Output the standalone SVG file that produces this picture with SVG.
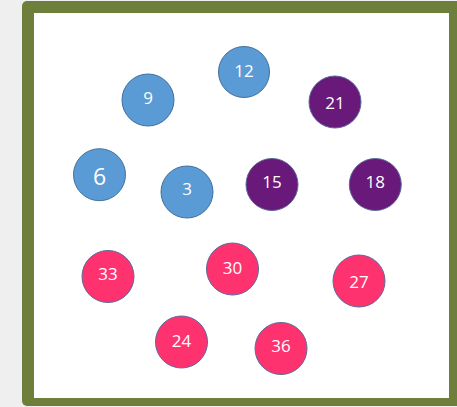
<svg xmlns="http://www.w3.org/2000/svg" width="457" height="407" viewBox="0 0 457 407">
<style>
.n circle{stroke:#5a6a9a;stroke-width:1}
.b circle{fill:#5b9bd5;stroke:#41719c}
.p circle{fill:#68197a}
.r circle{fill:#ff3270}
.n text{fill:#ffffff;font-family:"Open Sans","Liberation Sans",sans-serif;font-size:17px;text-anchor:middle}
</style>
<rect x="0" y="0" width="457" height="407" fill="#efefef"/>
<g id="frame">
<rect x="22" y="1" width="445" height="405" rx="5" fill="#6e7f3c"/>
<rect x="34" y="13" width="415" height="385" fill="#ffffff"/>
</g>
<g id="connectors"></g>
<g id="n12" class="n b"><circle cx="244" cy="72" r="25.5"/><text x="244" y="77">12</text></g>
<g id="n9" class="n b"><circle cx="148" cy="100" r="26"/><text x="148" y="103.5">9</text></g>
<g id="n21" class="n p"><circle cx="335" cy="102" r="26"/><text x="335" y="109">21</text></g>
<g id="n6" class="n b"><circle cx="99.5" cy="174.7" r="26"/><text x="99.5" y="185" style="font-size:23px">6</text></g>
<g id="n3" class="n b"><circle cx="187" cy="192" r="26"/><text x="187" y="194.5">3</text></g>
<g id="n15" class="n p"><circle cx="272" cy="184.5" r="26"/><text x="272" y="188">15</text></g>
<g id="n18" class="n p"><circle cx="375.3" cy="184.5" r="26"/><text x="375.3" y="188">18</text></g>
<g id="n33" class="n r"><circle cx="108" cy="276.5" r="26"/><text x="108" y="279.5">33</text></g>
<g id="n30" class="n r"><circle cx="232.5" cy="269" r="26"/><text x="232.5" y="273.5">30</text></g>
<g id="n27" class="n r"><circle cx="359" cy="281" r="26"/><text x="359" y="288">27</text></g>
<g id="n24" class="n r"><circle cx="181.5" cy="342" r="26"/><text x="181.5" y="347">24</text></g>
<g id="n36" class="n r"><circle cx="281" cy="348.5" r="26"/><text x="281" y="352">36</text></g>
</svg>
